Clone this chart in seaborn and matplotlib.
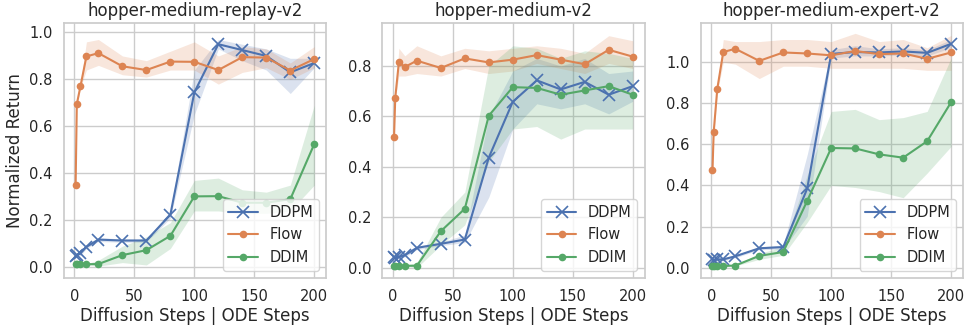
import numpy as np
import pandas as pd
import matplotlib
matplotlib.use("Agg")
import matplotlib.pyplot as plt
import seaborn as sns

steps = [1, 2, 5, 10, 20, 40, 60, 80, 100, 120, 140, 160, 180, 200]
methods = ["DDPM", "Flow", "DDIM"]
titles = ["hopper-medium-replay-v2", "hopper-medium-v2", "hopper-medium-expert-v2"]

# ---- hopper-medium-replay-v2 ----
r_ddpm = [0.048, 0.052, 0.059, 0.087, 0.118, 0.114, 0.114, 0.224, 0.745, 0.95, 0.925, 0.90, 0.83, 0.87]
r_ddpm_lo = [0.04, 0.045, 0.05, 0.08, 0.11, 0.107, 0.107, 0.21, 0.65, 0.93, 0.88, 0.84, 0.74, 0.85]
r_ddpm_hi = [0.056, 0.06, 0.068, 0.095, 0.126, 0.121, 0.121, 0.24, 0.84, 0.97, 0.95, 0.93, 0.89, 0.89]
r_flow = [0.35, 0.695, 0.77, 0.898, 0.912, 0.856, 0.84, 0.876, 0.875, 0.84, 0.895, 0.893, 0.838, 0.887]
r_flow_lo = [0.345, 0.69, 0.765, 0.84, 0.86, 0.82, 0.81, 0.84, 0.84, 0.78, 0.83, 0.85, 0.80, 0.85]
r_flow_hi = [0.355, 0.70, 0.78, 0.96, 0.97, 0.90, 0.88, 0.92, 0.96, 0.90, 0.94, 0.93, 0.87, 0.94]
r_ddim = [0.013, 0.013, 0.013, 0.013, 0.014, 0.052, 0.073, 0.134, 0.302, 0.303, 0.275, 0.275, 0.29, 0.525]
r_ddim_lo = [0.011, 0.011, 0.011, 0.011, 0.005, 0.02, 0.01, 0.08, 0.24, 0.24, 0.23, 0.23, 0.24, 0.35]
r_ddim_hi = [0.015, 0.015, 0.015, 0.015, 0.03, 0.09, 0.13, 0.19, 0.37, 0.38, 0.33, 0.32, 0.35, 0.69]

# ---- hopper-medium-v2 ----
m_ddpm = [0.042, 0.04, 0.043, 0.05, 0.079, 0.095, 0.112, 0.437, 0.658, 0.743, 0.707, 0.737, 0.686, 0.72]
m_ddpm_lo = [0.035, 0.033, 0.036, 0.043, 0.072, 0.088, 0.10, 0.28, 0.55, 0.65, 0.63, 0.65, 0.61, 0.66]
m_ddpm_hi = [0.049, 0.047, 0.05, 0.057, 0.086, 0.102, 0.13, 0.60, 0.78, 0.83, 0.80, 0.83, 0.77, 0.78]
m_flow = [0.52, 0.674, 0.814, 0.796, 0.821, 0.792, 0.83, 0.814, 0.825, 0.843, 0.825, 0.807, 0.864, 0.837]
m_flow_lo = [0.515, 0.67, 0.76, 0.76, 0.77, 0.76, 0.79, 0.77, 0.78, 0.81, 0.79, 0.77, 0.81, 0.79]
m_flow_hi = [0.525, 0.68, 0.87, 0.84, 0.88, 0.84, 0.87, 0.86, 0.87, 0.88, 0.87, 0.85, 0.92, 0.90]
m_ddim = [0.008, 0.008, 0.008, 0.008, 0.008, 0.145, 0.234, 0.603, 0.716, 0.713, 0.686, 0.703, 0.72, 0.686]
m_ddim_lo = [0.006, 0.006, 0.006, 0.006, 0.0, 0.09, 0.17, 0.42, 0.55, 0.56, 0.51, 0.55, 0.55, 0.55]
m_ddim_hi = [0.01, 0.01, 0.01, 0.01, 0.02, 0.20, 0.30, 0.80, 0.88, 0.87, 0.83, 0.86, 0.85, 0.83]

# ---- hopper-medium-expert-v2 ----
e_ddpm = [0.04, 0.035, 0.04, 0.04, 0.055, 0.094, 0.10, 0.385, 1.04, 1.049, 1.047, 1.052, 1.045, 1.089]
e_ddpm_lo = [0.033, 0.028, 0.033, 0.033, 0.048, 0.087, 0.09, 0.25, 1.02, 1.03, 1.03, 1.035, 1.03, 1.07]
e_ddpm_hi = [0.047, 0.042, 0.047, 0.047, 0.062, 0.10, 0.11, 0.55, 1.06, 1.08, 1.065, 1.07, 1.06, 1.11]
e_flow = [0.475, 0.659, 0.87, 1.049, 1.065, 1.006, 1.047, 1.042, 1.033, 1.054, 1.039, 1.042, 1.016, 1.047]
e_flow_lo = [0.42, 0.64, 0.85, 1.0, 0.99, 0.92, 0.98, 0.98, 0.97, 0.97, 0.97, 0.97, 0.96, 0.96]
e_flow_hi = [0.52, 0.68, 0.89, 1.11, 1.10, 1.10, 1.11, 1.11, 1.10, 1.14, 1.10, 1.11, 1.07, 1.13]
e_ddim = [0.008, 0.008, 0.008, 0.008, 0.01, 0.057, 0.076, 0.325, 0.582, 0.58, 0.551, 0.535, 0.615, 0.805]
e_ddim_lo = [0.006, 0.006, 0.006, 0.006, 0.008, 0.04, 0.06, 0.22, 0.40, 0.39, 0.37, 0.34, 0.46, 0.59]
e_ddim_hi = [0.01, 0.01, 0.01, 0.01, 0.012, 0.07, 0.10, 0.45, 0.76, 0.77, 0.72, 0.73, 0.76, 1.02]

panels = [
    {"DDPM": (r_ddpm, r_ddpm_lo, r_ddpm_hi), "Flow": (r_flow, r_flow_lo, r_flow_hi), "DDIM": (r_ddim, r_ddim_lo, r_ddim_hi)},
    {"DDPM": (m_ddpm, m_ddpm_lo, m_ddpm_hi), "Flow": (m_flow, m_flow_lo, m_flow_hi), "DDIM": (m_ddim, m_ddim_lo, m_ddim_hi)},
    {"DDPM": (e_ddpm, e_ddpm_lo, e_ddpm_hi), "Flow": (e_flow, e_flow_lo, e_flow_hi), "DDIM": (e_ddim, e_ddim_lo, e_ddim_hi)},
]
ylims = [(-0.045, 1.04), (-0.04, 0.97), (-0.05, 1.19)]

sns.set_theme(style="whitegrid")
plt.rcParams['font.family'] = ['DejaVu Sans']
pal = sns.color_palette("deep")
colors = {"DDPM": pal[0], "Flow": pal[1], "DDIM": pal[2]}

fig, axes = plt.subplots(1, 3, figsize=(9.65, 3.25), dpi=100)
fig.subplots_adjust(left=0.066, right=0.998, top=0.929, bottom=0.145, wspace=0.213)

for ax, title, pdata, yl in zip(axes, titles, panels, ylims):
    rows = []
    for m in methods:
        mean, lo, hi = pdata[m]
        for s, v in zip(steps, mean):
            rows.append({"step": s, "value": v, "method": m})
        ax.fill_between(steps, lo, hi, color=colors[m], alpha=0.2, linewidth=0)
    df = pd.DataFrame(rows)
    for m in methods:
        sub = df[df.method == m]
        sns.lineplot(data=sub, x="step", y="value", ax=ax, color=colors[m],
                     marker="x" if m == "DDPM" else "o",
                     markersize=8 if m == "DDPM" else 5.5,
                     markeredgewidth=1.2 if m == "DDPM" else 0,
                     markeredgecolor=colors[m],
                     linewidth=1.5, label=m, errorbar=None)
    ax.set_title(title, fontsize=12, pad=5)
    ax.set_xlabel("Diffusion Steps | ODE Steps", fontsize=12, labelpad=2)
    ax.set_ylabel("")
    ax.set_xlim(-8.95, 209.95)
    ax.set_ylim(*yl)
    ax.set_xticks([0, 50, 100, 150, 200])
    ax.set_yticks(np.arange(0, yl[1], 0.2))
    ax.tick_params(labelsize=10.5, pad=2)
    ax.legend(loc="lower right", fontsize=10.5, frameon=True)

axes[0].set_ylabel("Normalized Return", fontsize=12)
fig.savefig("out.png", dpi=100)
